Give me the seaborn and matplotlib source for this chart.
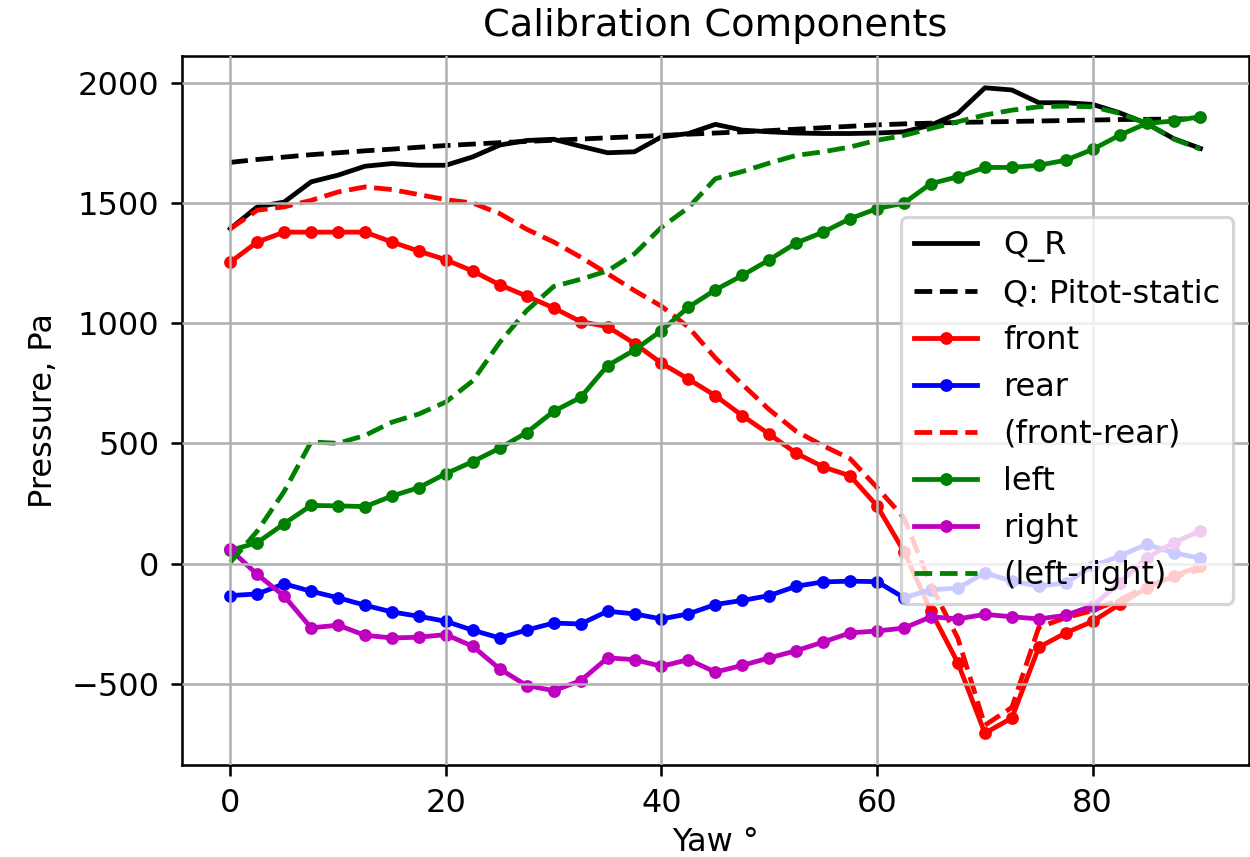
import numpy as np
import matplotlib
matplotlib.use("Agg")
import matplotlib.pyplot as plt
import seaborn as sns

yaw = [0, 2.5, 5, 7.5, 10, 12.5, 15, 17.5, 20, 22.5, 25, 27.5, 30, 32.5, 35, 37.5,
       40, 42.5, 45, 47.5, 50, 52.5, 55, 57.5, 60, 62.5, 65, 67.5, 70, 72.5, 75,
       77.5, 80, 82.5, 85, 87.5, 90]

q_r = [1392, 1483, 1503, 1587, 1615, 1652, 1663, 1656, 1656, 1691, 1740, 1759,
       1764, 1735, 1708, 1712, 1774, 1788, 1826, 1802, 1795, 1790, 1788, 1788,
       1790, 1795, 1823, 1872, 1978, 1969, 1916, 1916, 1909, 1874, 1830, 1767, 1726]

q_pitot = [1668, 1680, 1690, 1700, 1708, 1716, 1723, 1731, 1738, 1744, 1750, 1755,
           1760, 1765, 1770, 1775, 1780, 1785, 1790, 1795, 1800, 1806, 1812, 1818,
           1824, 1828, 1831, 1834, 1836, 1838, 1840, 1842, 1844, 1846, 1847, 1848, 1850]

front = [1253, 1337, 1378, 1378, 1378, 1378, 1337, 1299, 1263, 1216, 1159, 1112,
         1063, 1006, 985, 915, 833, 767, 698, 615, 538, 459, 402, 365, 240, 50,
         -198, -413, -705, -642, -348, -288, -240, -169, -101, -52, -10]

rear = [-133, -126, -84, -115, -142, -173, -201, -219, -240, -277, -309, -276,
        -247, -251, -198, -209, -230, -209, -170, -153, -133, -94, -76, -73, -75,
        -142, -108, -102, -38, -73, -94, -80, -10, 31, 80, 45, 22]

front_rear = [1392, 1469, 1483, 1510, 1545, 1566, 1555, 1534, 1513, 1499, 1455, 1390,
              1337, 1274, 1205, 1135, 1070, 983, 855, 745, 640, 550, 490, 436, 316,
              190, -90, -311, -672, -598, -265, -225, -195, -150, -95, -55, -25]

left = [55, 87, 166, 242, 240, 237, 281, 316, 374, 424, 480, 545, 633, 691, 823,
        888, 969, 1066, 1138, 1198, 1263, 1333, 1378, 1434, 1476, 1499, 1580, 1608,
        1647, 1647, 1656, 1677, 1722, 1781, 1830, 1840, 1858]

right = [59, -45, -135, -267, -256, -298, -309, -306, -295, -344, -438, -507, -528,
         -487, -392, -399, -427, -399, -451, -423, -392, -362, -326, -288, -280,
         -268, -221, -230, -211, -221, -230, -215, -175, -80, 24, 87, 136]

left_right = [5, 135, 300, 506, 500, 533, 588, 622, 672, 760, 920, 1052, 1152, 1182,
              1217, 1288, 1398, 1480, 1600, 1630, 1665, 1697, 1712, 1732, 1760, 1780,
              1809, 1837, 1865, 1885, 1899, 1902, 1899, 1872, 1830, 1765, 1723]

DPI = 230
fig = plt.figure(figsize=(1250 / DPI, 857 / DPI), dpi=DPI)
ax = fig.add_axes([0.1454, 0.1068, 0.8538, 0.8284])

series = [
    (q_r, "k", "-", None, "Q_R"),
    (q_pitot, "k", "--", None, "Q: Pitot-static"),
    (front, "r", "-", ".", "front"),
    (rear, "b", "-", ".", "rear"),
    (front_rear, "r", "--", None, "(front-rear)"),
    (left, "g", "-", ".", "left"),
    (right, "m", "-", ".", "right"),
    (left_right, "g", "--", None, "(left-right)"),
]

for vals, col, ls, mk, lab in series:
    kws = dict(color=col, linestyle=ls, label=lab, linewidth=1.5, errorbar=None, ax=ax)
    if mk:
        kws.update(marker=mk, markersize=6, markeredgecolor=col, markeredgewidth=1.0)
    sns.lineplot(x=yaw, y=vals, **kws)

ax.grid(True, color="#b0b0b0", linewidth=0.8)
ax.set_axisbelow(False)
ax.set_title("Calibration Components", fontsize=12)
ax.set_xlabel("Yaw °", fontsize=10, labelpad=2.5)
ax.set_ylabel("Pressure, Pa", fontsize=10)
ax.legend(loc="center right", fontsize=10)

fig.savefig("out.png", dpi=DPI)
